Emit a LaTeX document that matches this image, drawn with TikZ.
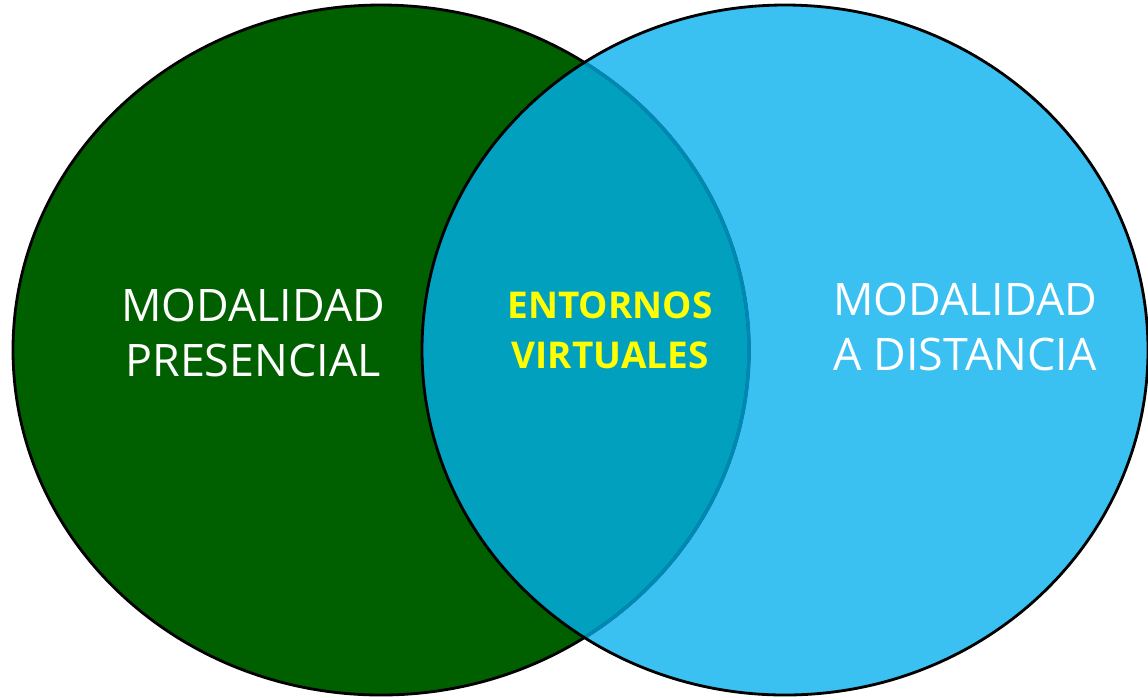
\documentclass[tikz,border=0pt]{standalone}
\usepackage{fontspec}
\setmainfont{Open Sans}
\usepackage{xcolor}
\usetikzlibrary{calc}

\definecolor{presGreen}{RGB}{0,96,0}
\definecolor{distBlue}{RGB}{59,192,242}
\definecolor{mixBlue}{RGB}{0,160,190}
\definecolor{edgeBlue}{RGB}{0,136,178}
\definecolor{textYellow}{RGB}{255,255,0}

\begin{document}
\begin{tikzpicture}[x=0.02cm,y=-0.02cm]

% ------------------------
% PARAMETERS
% ------------------------
\def\lx{381}
\def\rx{785}
\def\cy{350}
\def\la{368}
\def\lb{345}
\def\ra{363}
\def\rb{345}

\useasboundingbox (0,0) rectangle (1148,698);

% ------------------------
% Fills
% ------------------------
\fill[presGreen] (\lx,\cy) ellipse ({\la} and {\lb});
\fill[distBlue] (\rx,\cy) ellipse ({\ra} and {\rb});

% overlap region
\begin{scope}
  \clip (\lx,\cy) ellipse ({\la} and {\lb});
  \fill[mixBlue] (\rx,\cy) ellipse ({\ra} and {\rb});
\end{scope}

% ------------------------
% Borders
% ------------------------
\draw[black, line width=1.6pt] (\lx,\cy) ellipse ({\la} and {\lb});
\begin{scope}
  \clip (\rx,\cy) ellipse ({\ra} and {\rb});
  \draw[edgeBlue, line width=2pt] (\lx,\cy) ellipse ({\la} and {\lb});
\end{scope}
\draw[black, line width=1.6pt] (\rx,\cy) ellipse ({\ra} and {\rb});

% ------------------------
% Labels
% ------------------------
\node[white, align=center, font=\fontsize{25.5}{31.8}\selectfont]
  (presencial) at (253,333) {MODALIDAD\\PRESENCIAL};
\node[textYellow, align=center, font=\fontsize{21}{28.5}\selectfont\bfseries]
  (virtual) at (610,330) {ENTORNOS\\VIRTUALES};
\node[white, align=center, font=\fontsize{25.5}{31.8}\selectfont]
  (distancia) at (965,327) {MODALIDAD\\A DISTANCIA};

\end{tikzpicture}
\end{document}
